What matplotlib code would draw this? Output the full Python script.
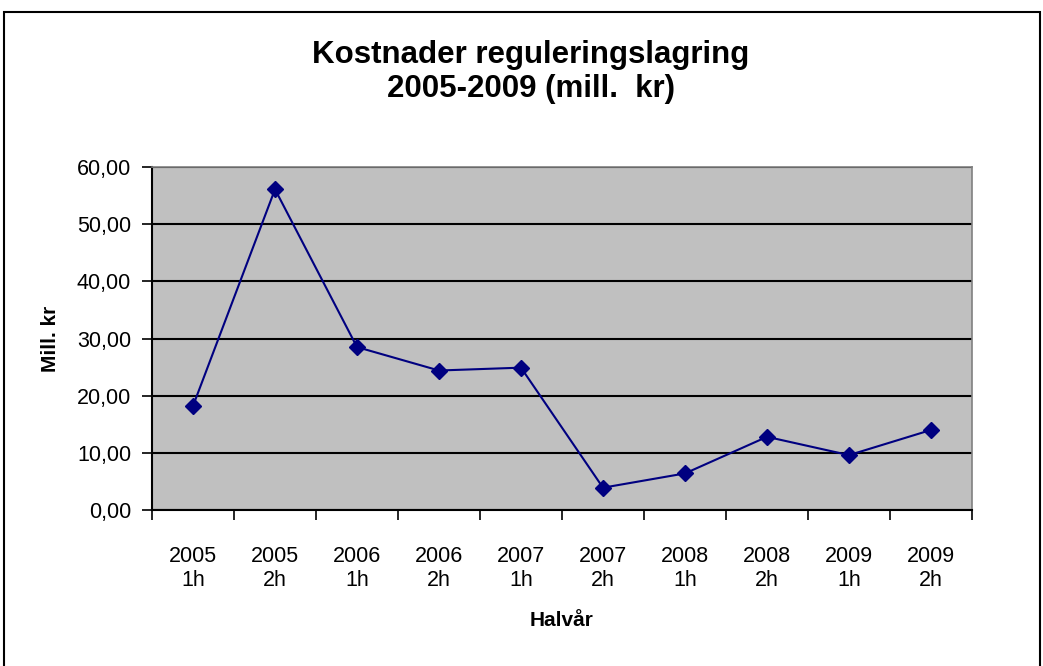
import matplotlib
matplotlib.use("Agg")
import matplotlib.pyplot as plt
from matplotlib.patches import Rectangle

categories = ["2005\n1h", "2005\n2h", "2006\n1h", "2006\n2h", "2007\n1h",
              "2007\n2h", "2008\n1h", "2008\n2h", "2009\n1h", "2009\n2h"]
values = [18.2, 56.1, 28.5, 24.4, 24.9, 3.9, 6.4, 12.8, 9.6, 14.0]
yticks = [0, 10, 20, 30, 40, 50, 60]
ytick_labels = ["0,00", "10,00", "20,00", "30,00", "40,00", "50,00", "60,00"]

plt.rcParams['font.family'] = ['Liberation Sans', 'DejaVu Sans']

fig = plt.figure(figsize=(10.43, 6.66), dpi=100)
fig.patch.set_facecolor("white")
fig.add_artist(Rectangle((4/1043, -0.05), 1036/1043, (666-12)/666 + 0.05, transform=fig.transFigure,
                         fill=False, edgecolor="black", linewidth=1.5))

ax = fig.add_axes([152/1043, (666-510)/666, (972-152)/1043, (510-167)/666])
ax.set_facecolor("#c0c0c0")
x = list(range(len(categories)))
ax.plot(x, values, color="#000080", linewidth=1.5, marker="D", markersize=8,
        markerfacecolor="#000080", markeredgecolor="#000080", zorder=3)

ax.set_xlim(-0.5, len(categories) - 0.5)
ax.set_ylim(0, 60)
ax.set_yticks(yticks)
ax.set_yticklabels(ytick_labels, fontsize=15.5)
ax.yaxis.grid(True, color="black", linewidth=1.5)
ax.set_axisbelow(True)

ax.set_xticks(x)
ax.set_xticklabels(categories, fontsize=15.5, linespacing=1.2)
ax.set_xticks([i - 0.5 for i in range(len(categories) + 1)], minor=True)
ax.tick_params(axis="x", which="major", length=0, pad=26)
ax.tick_params(axis="x", which="minor", length=7, width=1.2, direction="out")
ax.tick_params(axis="y", length=7, width=1.2, direction="out", pad=8)

for s in ["left", "bottom"]:
    ax.spines[s].set_color("black")
    ax.spines[s].set_linewidth(1.5)
for s in ["right", "top"]:
    ax.spines[s].set_color("#808080")
    ax.spines[s].set_linewidth(1.2)

ax.set_ylabel("Mill. kr", fontsize=15, fontweight="bold", labelpad=12)
ax.set_xlabel("Halvår", fontsize=15, fontweight="bold", labelpad=14)

fig.text(531/1043, 1 - 72/666, "Kostnader reguleringslagring\n2005-2009 (mill.  kr)",
         ha="center", va="center", fontsize=22.5, fontweight="bold", linespacing=1.2)

fig.savefig("out.png", dpi=100)
